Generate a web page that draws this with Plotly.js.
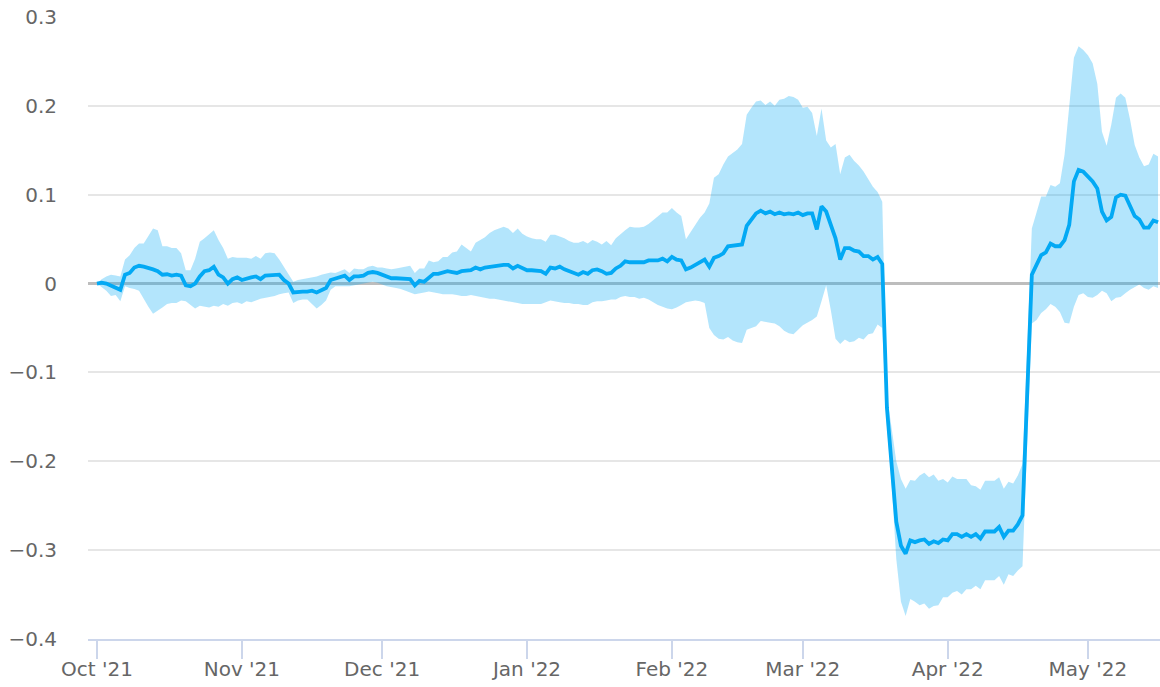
<!DOCTYPE html>
<html>
<head>
<meta charset="utf-8">
<script src="https://cdn.plot.ly/plotly-3.0.1.min.js"></script>
<style>html,body{margin:0;padding:0;background:#fff;}#chart{width:1160px;height:687px;}</style>
</head>
<body>
<div id="chart"></div>
<script>
// Daily observations starting 1 Oct 2021
const startDate = '2021-10-01';

const midValues = [
 0.000, 0.001, 0.000,-0.002,-0.004,-0.007, 0.010, 0.012, 0.018, 0.020,
 0.019, 0.018, 0.016, 0.014, 0.010, 0.0105,0.009, 0.010, 0.009,-0.002,
-0.003, 0.000, 0.008, 0.014, 0.015, 0.019, 0.010, 0.007, 0.000, 0.005,
 0.007, 0.004, 0.006, 0.007, 0.008, 0.005, 0.009, 0.009, 0.010, 0.010,
 0.004, 0.000,-0.010,-0.009,-0.009,-0.009,-0.008,-0.010,-0.008,-0.005,
 0.004, 0.006, 0.007, 0.009, 0.004, 0.008, 0.008, 0.009, 0.012, 0.013,
 0.012, 0.010, 0.008, 0.006, 0.006, 0.006, 0.006, 0.005,-0.002, 0.003,
 0.002, 0.007, 0.011, 0.011, 0.013, 0.014, 0.013, 0.012, 0.014, 0.015,
 0.015, 0.018, 0.016, 0.018, 0.019, 0.019, 0.021, 0.021, 0.021, 0.017,
 0.020, 0.017, 0.015, 0.015, 0.014, 0.014, 0.011, 0.018, 0.017, 0.019,
 0.016, 0.014, 0.012, 0.010, 0.013, 0.011, 0.015, 0.016, 0.014, 0.011,
 0.012, 0.017, 0.020, 0.025, 0.024, 0.024, 0.023, 0.024, 0.026, 0.026,
 0.026, 0.028, 0.025, 0.030, 0.027, 0.026, 0.016, 0.018, 0.021, 0.025,
 0.027, 0.019, 0.029, 0.031, 0.034, 0.042, 0.043, 0.043, 0.044, 0.065,
 0.072, 0.079, 0.082, 0.079, 0.081, 0.078, 0.080, 0.078, 0.079, 0.078,
 0.080, 0.077, 0.079, 0.079, 0.061, 0.087, 0.081, 0.066, 0.051, 0.027,
 0.040, 0.040, 0.037, 0.036, 0.031, 0.031, 0.027, 0.030, 0.022,-0.140,
-0.203,-0.268,-0.295,-0.304,-0.289,-0.291,-0.289,-0.288,-0.293,-0.290,
-0.292,-0.288,-0.289,-0.282,-0.282,-0.285,-0.282,-0.285,-0.282,-0.287,
-0.279,-0.279,-0.279,-0.274,-0.285,-0.278,-0.278,-0.271,-0.261,-0.125,
 0.010, 0.021, 0.032, 0.035, 0.045, 0.042, 0.042, 0.049, 0.066, 0.115,
 0.128, 0.126, 0.121, 0.115, 0.107, 0.081, 0.071, 0.075, 0.097, 0.100,
 0.099, 0.087, 0.076, 0.072, 0.063, 0.063, 0.071, 0.069
];

const upperValues = [
 0.000, 0.005, 0.008, 0.010, 0.009, 0.008, 0.027, 0.032, 0.040, 0.045,
 0.045, 0.053, 0.062, 0.060, 0.042, 0.042, 0.040, 0.040, 0.034, 0.015,
 0.015, 0.028, 0.047, 0.051, 0.055, 0.060, 0.049, 0.040, 0.028, 0.030,
 0.029, 0.029, 0.029, 0.028, 0.031, 0.028, 0.034, 0.035, 0.034, 0.027,
 0.019, 0.010, 0.002, 0.004, 0.005, 0.006, 0.007, 0.008, 0.010, 0.011,
 0.0125,0.012, 0.014, 0.016, 0.012, 0.017, 0.016, 0.016, 0.019, 0.020,
 0.018, 0.018, 0.017, 0.016, 0.017, 0.018, 0.019, 0.020, 0.012, 0.017,
 0.017, 0.026, 0.024, 0.025, 0.030, 0.030, 0.035, 0.036, 0.044, 0.040,
 0.036, 0.046, 0.049, 0.052, 0.057, 0.060, 0.062, 0.064, 0.062, 0.057,
 0.062, 0.056, 0.053, 0.051, 0.050, 0.050, 0.047, 0.055, 0.055, 0.053,
 0.051, 0.048, 0.046, 0.046, 0.048, 0.045, 0.049, 0.047, 0.044, 0.048,
 0.043, 0.051, 0.056, 0.060, 0.064, 0.063, 0.063, 0.064, 0.067, 0.071,
 0.076, 0.080, 0.080, 0.085, 0.080, 0.076, 0.050, 0.058, 0.066, 0.074,
 0.080, 0.090, 0.119, 0.123, 0.134, 0.143, 0.147, 0.151, 0.157, 0.190,
 0.198, 0.205, 0.206, 0.201, 0.205, 0.200, 0.207, 0.208, 0.211, 0.210,
 0.207, 0.198, 0.199, 0.192, 0.166, 0.197, 0.161, 0.153, 0.157, 0.123,
 0.142, 0.145, 0.138, 0.133, 0.126, 0.118, 0.109, 0.103, 0.092,-0.125,
-0.160,-0.200,-0.220,-0.231,-0.221,-0.222,-0.216,-0.213,-0.218,-0.215,
-0.222,-0.220,-0.224,-0.217,-0.220,-0.220,-0.220,-0.227,-0.228,-0.232,
-0.222,-0.222,-0.222,-0.218,-0.231,-0.223,-0.225,-0.216,-0.203,-0.075,
 0.062, 0.080, 0.098, 0.098, 0.111, 0.109, 0.113, 0.145, 0.200, 0.254,
 0.267, 0.263, 0.257, 0.248, 0.225, 0.171, 0.155, 0.179, 0.209, 0.214,
 0.209, 0.185, 0.156, 0.142, 0.132, 0.134, 0.146, 0.143
];

const lowerValues = [
 0.000,-0.004,-0.008,-0.014,-0.013,-0.020,-0.003,-0.005,-0.006,-0.008,
-0.017,-0.026,-0.034,-0.031,-0.027,-0.023,-0.022,-0.022,-0.019,-0.020,
-0.024,-0.028,-0.025,-0.026,-0.027,-0.025,-0.026,-0.023,-0.025,-0.022,
-0.021,-0.023,-0.020,-0.021,-0.019,-0.017,-0.016,-0.015,-0.014,-0.012,
-0.011,-0.010,-0.022,-0.019,-0.018,-0.018,-0.023,-0.028,-0.024,-0.019,
-0.007,-0.003,-0.003,-0.003,-0.003,-0.002,-0.001, 0.000, 0.001, 0.002,
 0.001,-0.001,-0.003,-0.004,-0.005,-0.006,-0.008,-0.010,-0.012,-0.011,
-0.010,-0.009,-0.010,-0.011,-0.012,-0.012,-0.012,-0.013,-0.014,-0.014,
-0.013,-0.014,-0.015,-0.016,-0.017,-0.017,-0.018,-0.019,-0.020,-0.021,
-0.022,-0.023,-0.023,-0.023,-0.023,-0.023,-0.021,-0.019,-0.020,-0.021,
-0.022,-0.022,-0.023,-0.023,-0.024,-0.024,-0.021,-0.020,-0.020,-0.019,
-0.018,-0.018,-0.015,-0.014,-0.015,-0.015,-0.017,-0.016,-0.018,-0.021,
-0.024,-0.026,-0.028,-0.029,-0.027,-0.024,-0.021,-0.020,-0.019,-0.020,
-0.022,-0.050,-0.058,-0.062,-0.063,-0.060,-0.064,-0.066,-0.067,-0.052,
-0.050,-0.048,-0.042,-0.043,-0.044,-0.045,-0.048,-0.053,-0.056,-0.057,
-0.052,-0.047,-0.044,-0.041,-0.037,-0.020,-0.002,-0.030,-0.062,-0.068,
-0.063,-0.066,-0.065,-0.061,-0.063,-0.057,-0.056,-0.046,-0.050,-0.160,
-0.225,-0.310,-0.358,-0.374,-0.355,-0.358,-0.362,-0.360,-0.366,-0.363,
-0.362,-0.353,-0.353,-0.348,-0.346,-0.350,-0.344,-0.344,-0.340,-0.344,
-0.334,-0.334,-0.334,-0.329,-0.339,-0.327,-0.329,-0.323,-0.318,-0.180,
-0.045,-0.041,-0.033,-0.029,-0.023,-0.026,-0.032,-0.044,-0.045,-0.026,
-0.013,-0.011,-0.015,-0.016,-0.013,-0.008,-0.011,-0.020,-0.016,-0.015,
-0.011,-0.007,-0.004,-0.001,-0.005,-0.007,-0.003,-0.005
];

const xTickFormat = "%b '%y";

// build daily date axis
function buildDates(start, n) {
  const out = [];
  const t0 = Date.parse(start + 'T00:00:00Z');
  for (let i = 0; i < n; i++) {
    const d = new Date(t0 + i * 86400000);
    out.push(d.toISOString().slice(0, 10));
  }
  return out;
}
const dates = buildDates(startDate, midValues.length);

const band = {
  x: dates.concat(dates.slice().reverse()),
  y: upperValues.concat(lowerValues.slice().reverse()),
  type: 'scatter',
  mode: 'lines',
  fill: 'toself',
  fillcolor: 'rgba(3,169,244,0.3)',
  line: {width: 0, color: 'rgba(0,0,0,0)'},
  hoverinfo: 'skip',
  showlegend: false
};

const line = {
  x: dates,
  y: midValues,
  type: 'scatter',
  mode: 'lines',
  line: {color: '#03a9f4', width: 3.8},
  showlegend: false
};

const tickFont = {family: 'DejaVu Sans, sans-serif', size: 20, color: '#666666'};

const layout = {
  width: 1160,
  height: 687,
  margin: {l: 88, r: 0, t: 17, b: 48, pad: 0},
  paper_bgcolor: '#ffffff',
  plot_bgcolor: '#ffffff',
  showlegend: false,
  xaxis: {
    type: 'date',
    range: ['2021-09-29 02:00', '2022-05-16 10:00'],
    tick0: '2021-10-01',
    dtick: 'M1',
    tickformat: xTickFormat,
    showgrid: false,
    zeroline: false,
    showline: true,
    linecolor: '#ccd6eb',
    linewidth: 2,
    ticks: 'outside',
    ticklen: 18,
    tickwidth: 2,
    tickcolor: '#ccd6eb',
    ticklabelstandoff: -7,
    tickfont: tickFont,
    fixedrange: true
  },
  yaxis: {
    range: [-0.4, 0.3],
    dtick: 0.1,
    tick0: 0,
    showgrid: true,
    gridcolor: '#e6e6e6',
    gridwidth: 2,
    zeroline: true,
    zerolinecolor: '#bdbdbd',
    zerolinewidth: 3,
    showline: false,
    ticks: '',
    ticklabelstandoff: 30,
    tickfont: tickFont,
    fixedrange: true
  }
};

Plotly.newPlot('chart', [band, line], layout, {displayModeBar: false, staticPlot: true});
</script>
</body>
</html>
